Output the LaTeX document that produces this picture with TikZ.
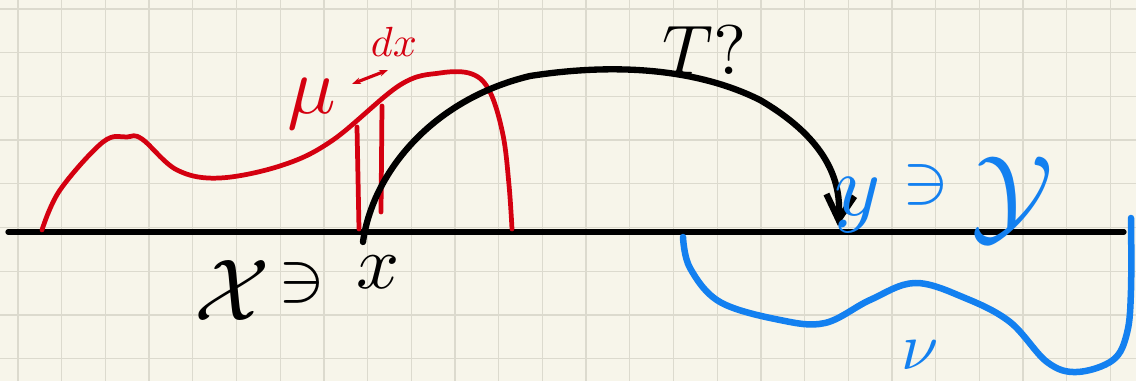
\documentclass[tikz,border=0pt]{standalone}
\usepackage{amssymb}
\usetikzlibrary{arrows.meta}

\definecolor{paper}{HTML}{F7F5EA}
\definecolor{gridgray}{HTML}{DCDACE}
\definecolor{inkred}{HTML}{D40010}
\definecolor{inkblue}{HTML}{1380F0}

\newcommand*{\pxmax}{1136}
\newcommand*{\pymax}{381}

\begin{document}
\begin{tikzpicture}
[
	ink/.style={line cap=round,line join=round},
	redink/.style={ink,inkred,line width=2.7pt},
	blackink/.style={ink,black,line width=3.6pt},
	blueink/.style={ink,inkblue,line width=3.7pt},
	label/.style={inner sep=0pt},
	x=0.02cm,
	y=-0.02cm
]

	% paper
	\useasboundingbox (0,0) rectangle (\pxmax,\pymax);
	\fill[paper] (0,0) rectangle (\pxmax,\pymax);

	% grid
	\begin{scope}
		\clip (0,0) rectangle (\pxmax,\pymax);
		\foreach \k in {0,...,25} {
			\draw[gridgray,line width=0.7pt] (18+43.7*\k,0) -- (18+43.7*\k,\pymax);
		}
		\foreach \k in {0,...,8} {
			\draw[gridgray,line width=0.7pt] (0,9+43.7*\k) -- (\pxmax,9+43.7*\k);
		}
	\end{scope}

	% axis
	\draw[blackink,line width=3pt] (8,232) -- (1124,232);

	% density mu
	\draw[redink] plot[smooth,tension=0.6] coordinates {
		(42,230) (60,190) (103,142) (127,137) (142,139) (177,170)
		(220,178) (283,165) (333,140) (400,85) (440,73) (472,74)
		(490,92) (503,135) (509,185) (512,229)
	};
	\draw[redink] (357,127) -- (359,229);
	\draw[redink] (382,106) -- (381,212);
	\node[label,inkred,scale=4.6] (mu) at (312,104) {$\mu$};
	\node[label,inkred,scale=2.4] (dx) at (394,42) {$dx$};
	\draw[inkred,line width=1.8pt,{Stealth[length=5pt]}-{Stealth[length=5pt]}] (352,84) -- (388,70);

	% source side
	\coordinate (xpt) at (363,242);
	\node[label,scale=5] (X) at (232,290) {$\mathcal{X}$};
	\node[label,scale=4] (ni1) at (302,283) {$\ni$};
	\node[label,scale=4.3] (x) at (378,272) {$x$};

	% map T
	\coordinate (ypt) at (838,226);
	\draw[blackink,-{Straight Barb[length=14pt,width=16pt]}] (xpt)
		.. controls (372,175) and (430,100) .. (530,76)
		.. controls (620,62) and (700,70) .. (760,100)
		.. controls (820,135) and (842,175) .. (ypt);
	\node[label,scale=4] (T) at (705,50) {$T?$};

	% target side
	\node[label,inkblue,scale=5] (y) at (858,205) {$y$};
	\node[label,inkblue,scale=4] (ni2) at (926,185) {$\ni$};
	\node[label,inkblue,scale=6.2] (Y) at (1012,200) {$\mathcal{Y}$};

	% density nu
	\draw[blueink] plot[smooth,tension=0.6] coordinates {
		(683,237) (690,268) (720,302) (780,320) (825,323) (870,300)
		(915,283) (965,298) (1010,322) (1047,362) (1077,372)
		(1113,360) (1127,333) (1131,290) (1131,218)
	};
	\node[label,inkblue,scale=3.8] (nu) at (920,355) {$\nu$};

\end{tikzpicture}
\end{document}
